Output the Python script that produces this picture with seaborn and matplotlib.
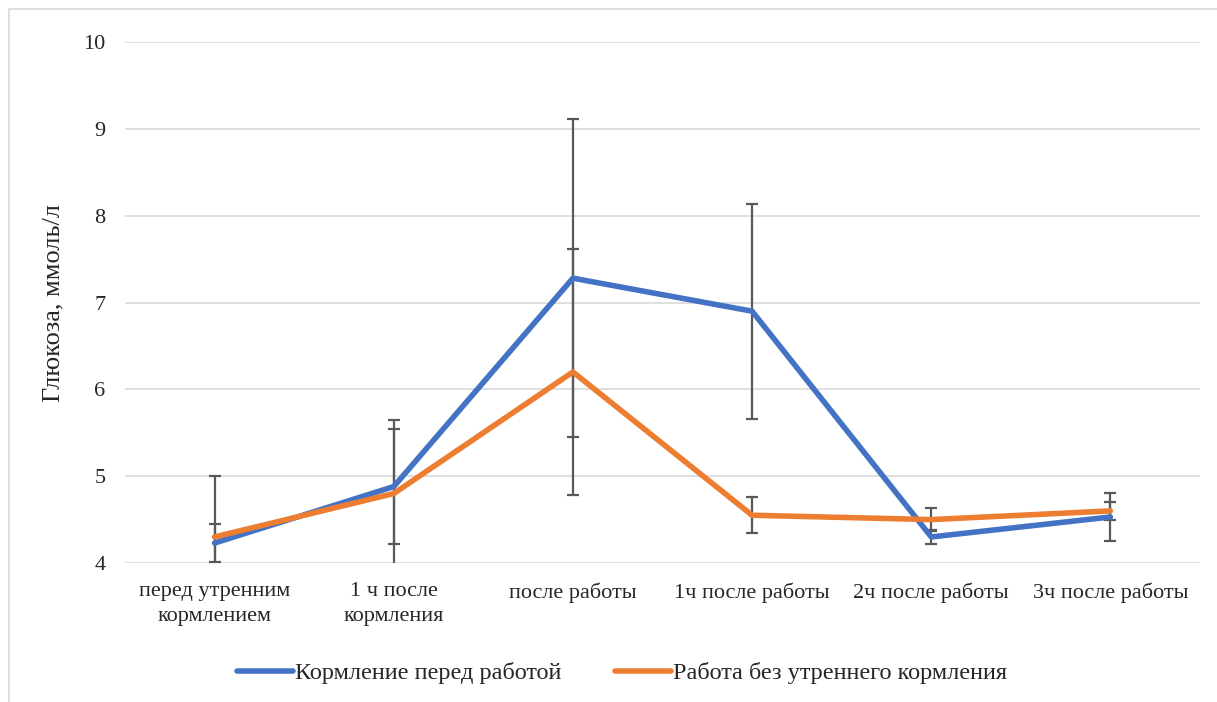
import pandas as pd
import numpy as np
import matplotlib.pyplot as plt
import seaborn as sns
from matplotlib.patches import Rectangle

sns.set_theme(style="white")
plt.rcParams['font.family'] = ['Liberation Serif', 'DejaVu Serif']

# Data
categories = ['перед утренним\nкормлением', '1 ч после\nкормления', 'после работы',
              '1ч после работы', '2ч после работы', '3ч после работы']
fed_mean = [4.23, 4.88, 7.28, 6.90, 4.30, 4.53]
fed_err = [0.22, 0.66, 1.83, 1.24, 0.08, 0.28]
unfed_mean = [4.30, 4.80, 6.20, 4.55, 4.50, 4.60]
unfed_err = [0.70, 0.85, 1.42, 0.21, 0.13, 0.10]
series_names = ['Кормление перед работой', 'Работа без утреннего кормления']
colors = ['#4472C4', '#ED7D31']

df = pd.DataFrame({
    'pos': list(range(len(categories))) * 2,
    'value': fed_mean + unfed_mean,
    'err': fed_err + unfed_err,
    'series': [series_names[0]] * len(categories) + [series_names[1]] * len(categories),
})

fig = plt.figure(figsize=(12.17, 7.02), dpi=100)
ax = fig.add_axes([125 / 1217, 1 - 563 / 702, 1075 / 1217, 521 / 702])

# chart outer border
fig.patches.append(Rectangle((9 / 1217, -0.05), 1.2, 1 - 9 / 702 + 0.05, transform=fig.transFigure,
                             fill=False, edgecolor='#D9D9D9', linewidth=1.2))

for y in range(4, 11):
    ax.axhline(y, color='#D9D9D9', linewidth=1.2, zorder=0)

for name in series_names:
    sub = df[df['series'] == name]
    ax.errorbar(sub['pos'], sub['value'], yerr=sub['err'], fmt='none', ecolor='#595959',
                elinewidth=1.6, capsize=4.5, capthick=1.6, zorder=2)

sns.lineplot(data=df, x='pos', y='value', hue='series', palette=colors, linewidth=4,
             ax=ax, zorder=3, legend=False)

ax.set_xlim(-0.5, 5.5)
ax.set_ylim(4, 10)
ax.set_yticks(range(4, 11))
ax.set_yticklabels([str(v) for v in range(4, 11)], fontsize=16)
ax.set_xticks(range(len(categories)))
ax.set_xticklabels(categories, fontsize=16, linespacing=1.4)
ax.tick_params(axis='y', length=0, pad=14)
ax.tick_params(axis='x', length=0, pad=14)
ax.set_xlabel('')
ax.set_ylabel('Глюкоза, ммоль/л', fontsize=19)
ax.yaxis.set_label_coords(-0.056, 0.5)
for s in ax.spines.values():
    s.set_visible(False)

handles = [plt.Line2D([], [], color=c, linewidth=4) for c in colors]
fig.legend(handles, series_names, loc='center', bbox_to_anchor=(622 / 1217, 1 - 673 / 702),
           ncol=2, frameon=False, fontsize=17.5, handlelength=2.3, handletextpad=0.1,
           columnspacing=2.2)

fig.savefig('out.png', dpi=100)
